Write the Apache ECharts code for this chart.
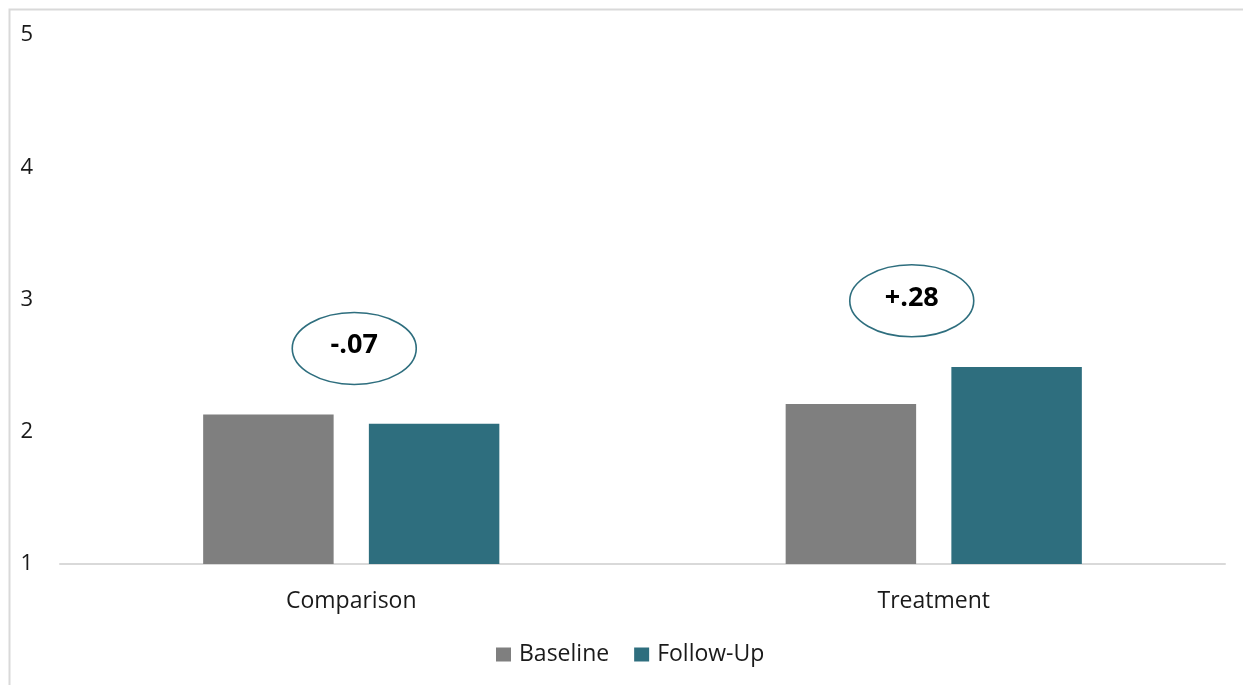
<!DOCTYPE html>
<html>
<head>
<meta charset="utf-8">
<title>Baseline vs Follow-Up</title>
<script src="https://cdn.jsdelivr.net/npm/echarts@6/dist/echarts.min.js"></script>
<style>
  html, body { margin: 0; padding: 0; background: #ffffff; }
  #chart { width: 1243px; height: 685px; }
</style>
</head>
<body>
<div id="chart"></div>
<script>
// Group means on a 1–5 scale
const categories = ['Comparison', 'Treatment'];
const baseline = [2.13, 2.21];
const followUp = [2.06, 2.49];
const yTicks = [1, 2, 3, 4, 5];

// Change from baseline shown in the callout ovals, and where each oval sits on the value scale
const changeLabels = ['-.07', '+.28'];
const changeLevels = [2.63, 2.99];

const FONT = '"Open Sans", "Noto Sans", sans-serif';
const GRAY = '#7f7f7f';
const TEAL = '#2e6e7e';
const TEXT = '#1a1a1a';

const chart = echarts.init(document.getElementById('chart'), null, { renderer: 'canvas' });

const callouts = categories.map((c, i) => [i, changeLevels[i], changeLabels[i]]);

chart.setOption({
  animation: false,
  backgroundColor: '#ffffff',
  graphic: [{
    type: 'rect',
    left: 7, top: 7,
    shape: { width: 1300, height: 720 },
    style: { fill: 'none', stroke: '#d9d9d9', lineWidth: 2 },
    silent: true,
    z: -10
  }],
  grid: { left: 60, right: 18, top: 35, bottom: 121, containLabel: false },
  legend: {
    bottom: 19,
    left: 496,
    padding: 0,
    itemWidth: 15,
    itemHeight: 14,
    itemGap: 25,
    icon: 'rect',
    textStyle: { fontFamily: FONT, fontSize: 23, color: TEXT, padding: [0, 0, 0, 3] },
    data: ['Baseline', 'Follow-Up']
  },
  xAxis: {
    type: 'category',
    data: categories,
    axisLine: { lineStyle: { color: '#d9d9d9', width: 2 } },
    axisTick: { show: false },
    axisLabel: { fontFamily: FONT, fontSize: 23, color: TEXT, margin: 26 }
  },
  yAxis: {
    type: 'value',
    min: yTicks[0],
    max: yTicks[yTicks.length - 1],
    interval: 1,
    axisLine: { show: false },
    axisTick: { show: false },
    splitLine: { show: false },
    axisLabel: {
      fontFamily: FONT, fontSize: 22, color: TEXT, margin: 27,
      formatter: v => (yTicks.includes(v) ? String(v) : '')
    }
  },
  series: [
    {
      name: 'Baseline',
      type: 'bar',
      data: baseline,
      barWidth: '22.4%',
      barGap: '27%',
      itemStyle: { color: GRAY }
    },
    {
      name: 'Follow-Up',
      type: 'bar',
      data: followUp,
      barWidth: '22.4%',
      itemStyle: { color: TEAL }
    },
    {
      name: 'Change',
      type: 'custom',
      data: callouts,
      z: 5,
      renderItem: (params, api) => {
        const pt = api.coord([api.value(0), api.value(1)]);
        const shift = [3, -22][params.dataIndex];
        const cx = pt[0] + shift;
        const cy = pt[1];
        return {
          type: 'group',
          children: [
            {
              type: 'ellipse',
              shape: { cx: cx, cy: cy, rx: 62, ry: 36 },
              style: { fill: '#ffffff', stroke: TEAL, lineWidth: 1.6 }
            },
            {
              type: 'text',
              x: cx, y: cy - 3,
              style: {
                text: callouts[params.dataIndex][2],
                fontFamily: FONT, fontSize: 27, fontWeight: 'bold',
                fill: '#000000', align: 'center', verticalAlign: 'middle'
              }
            }
          ]
        };
      }
    }
  ]
});
</script>
</body>
</html>
